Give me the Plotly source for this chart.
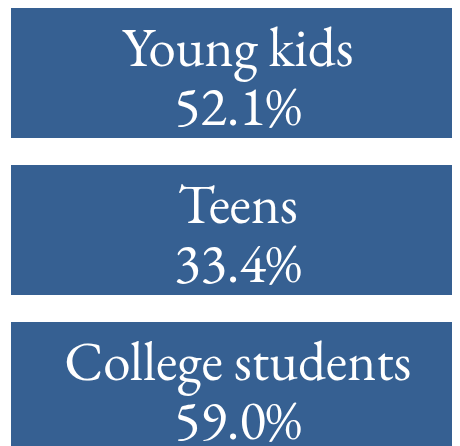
import plotly.graph_objects as go

categories = ["Young kids", "Teens", "College students"]
percentages = [52.1, 33.4, 59.0]
positions = [0, 1, 2]

font_family = "EB Garamond, Garamond, Liberation Serif, serif"
name_offset = -0.133
pct_offset = 0.243

fig = go.Figure()
fig.add_trace(
    go.Bar(
        y=positions,
        x=[1] * len(categories),
        orientation="h",
        marker=dict(color="#366092", line=dict(width=0)),
        width=0.828,
        hoverinfo="skip",
    )
)
fig.add_trace(
    go.Scatter(
        x=[0.5] * len(categories),
        y=[p + name_offset for p in positions],
        mode="text",
        text=categories,
        textposition="middle center",
        textfont=dict(family=font_family, size=55, color="white"),
        cliponaxis=False,
        hoverinfo="skip",
    )
)
fig.add_trace(
    go.Scatter(
        x=[0.5] * len(categories),
        y=[p + pct_offset for p in positions],
        mode="text",
        text=[f"{v:.1f}%" for v in percentages],
        textposition="middle center",
        textfont=dict(family=font_family, size=55, color="white"),
        cliponaxis=False,
        hoverinfo="skip",
    )
)

fig.update_layout(
    width=452,
    height=438,
    margin=dict(l=3, r=0, t=0, b=0),
    paper_bgcolor="white",
    plot_bgcolor="white",
    showlegend=False,
    xaxis=dict(range=[0, 0.99], visible=False, fixedrange=True),
    yaxis=dict(range=[2.376, -0.414], visible=False, fixedrange=True),
)

fig.write_html("out.html")
